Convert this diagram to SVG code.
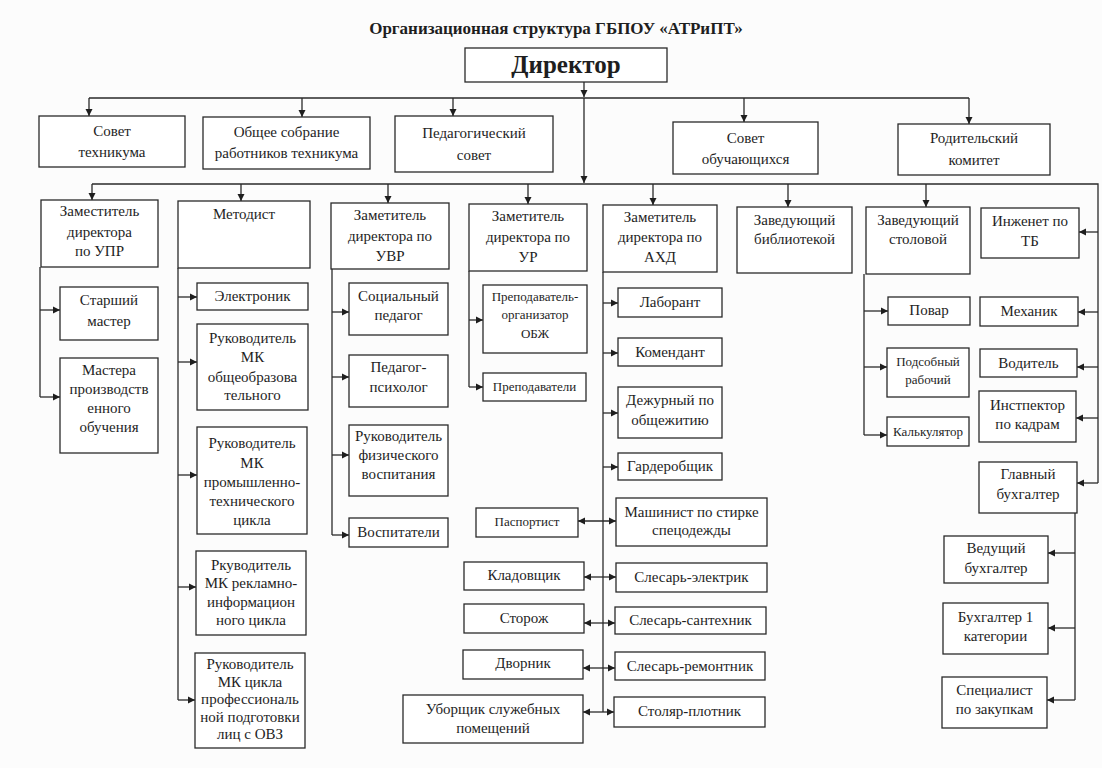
<svg xmlns="http://www.w3.org/2000/svg" width="1102" height="768" viewBox="0 0 1102 768" font-family="Liberation Serif, serif">
<defs>
<marker id="ah" markerUnits="userSpaceOnUse" markerWidth="8" markerHeight="8" refX="7" refY="4" orient="auto-start-reverse"><path d="M0,0.5 L7,4 L0,7.5 z" fill="#1e1e1e"/></marker>
<style>
rect{fill:#fff;stroke:#2a2a2a;stroke-width:1.3}
text{font-size:15px;fill:#1e1e1e;text-anchor:middle}
.s13{font-size:13px}
#conn path{fill:none;stroke:#2a2a2a;stroke-width:1.3}
.a{marker-end:url(#ah)}
.d{marker-start:url(#ah);marker-end:url(#ah)}
</style>
</defs>
<rect x="0" y="0" width="1102" height="768" style="fill:#fcfcfc;stroke:none"/>
<text x="556" y="34" style="font-weight:bold;font-size:17px">Организационная структура ГБПОУ «АТРиПТ»</text>

<g id="conn">
<path class="a" d="M584,82 V97"/>
<path class="a" d="M584,98 V183"/>
<path d="M89,98 H969"/>
<path class="a" d="M89,98 V116"/>
<path class="a" d="M302,98 V117"/>
<path class="a" d="M453,98 V116"/>
<path class="a" d="M744,98 V122"/>
<path class="a" d="M969,98 V124"/>
<path d="M92,184 H1098 V483"/>
<path class="a" d="M92,184 V200"/>
<path class="a" d="M241,184 V201"/>
<path class="a" d="M388,184 V203"/>
<path class="a" d="M528,184 V204"/>
<path class="a" d="M653,184 V205"/>
<path class="a" d="M788,184 V207"/>
<path class="a" d="M926,184 V207"/>
<path class="a" d="M1098,232 H1079"/>
<path class="a" d="M1098,312 H1078"/>
<path class="a" d="M1098,367 H1077"/>
<path class="a" d="M1098,418 H1076"/>
<path class="a" d="M1098,483 H1077"/>
<path d="M40,267 V397"/>
<path class="a" d="M40,310 H60"/>
<path class="a" d="M40,397 H60"/>
<path d="M178,268 V700"/>
<path class="a" d="M178,297 H197"/>
<path class="a" d="M178,362 H197"/>
<path class="a" d="M178,475 H197"/>
<path class="a" d="M178,587 H196"/>
<path class="a" d="M178,700 H195"/>
<path d="M332,269 V535"/>
<path class="a" d="M332,312 H349"/>
<path class="a" d="M332,377 H349"/>
<path class="a" d="M332,455 H349"/>
<path class="a" d="M332,535 H349"/>
<path d="M469,271 V387"/>
<path class="a" d="M469,320 H483"/>
<path class="a" d="M469,387 H483"/>
<path d="M603,272 V712"/>
<path class="a" d="M603,303 H618"/>
<path class="a" d="M603,353 H618"/>
<path class="a" d="M603,413 H618"/>
<path class="a" d="M603,467 H618"/>
<path class="d" d="M578,521 H616"/>
<path class="d" d="M584,577 H616"/>
<path class="d" d="M584,623 H615"/>
<path class="d" d="M583,668 H615"/>
<path class="d" d="M583,712 H614"/>
<path d="M864,274 V435"/>
<path class="a" d="M864,311 H888"/>
<path class="a" d="M864,367 H887"/>
<path class="a" d="M864,435 H887"/>
<path d="M1075,513 V700"/>
<path class="a" d="M1075,553 H1048"/>
<path class="a" d="M1075,628 H1048"/>
<path class="a" d="M1075,700 H1047"/>
</g>

<g id="director"><rect x="465" y="48" width="202" height="34"/><text x="566" y="73" style="font-weight:bold;font-size:25px">Директор</text></g>

<g id="sovet-tech"><rect x="39" y="116" width="146" height="51"/><text x="112" y="136">Совет</text><text x="112" y="157">техникума</text></g>
<g id="obshee"><rect x="203" y="117" width="167" height="52"/><text x="286.5" y="137">Общее собрание</text><text x="286.5" y="158">работников техникума</text></g>
<g id="pedsovet"><rect x="395" y="116" width="158" height="56"/><text x="474" y="138">Педагогический</text><text x="474" y="160">совет</text></g>
<g id="sovet-ob"><rect x="673" y="122" width="145" height="52"/><text x="745.5" y="143">Совет</text><text x="745.5" y="164">обучающихся</text></g>
<g id="roditel"><rect x="898" y="124" width="152" height="51"/><text x="974" y="143">Родительский</text><text x="974" y="165">комитет</text></g>

<g id="upr"><rect x="41" y="200" width="117" height="67"/><text x="99.5" y="216">Заместитель</text><text x="99.5" y="237">директора</text><text x="99.5" y="256">по УПР</text></g>
<g id="metodist"><rect x="178" y="201" width="132" height="67"/><text x="244" y="219">Методист</text></g>
<g id="uvr"><rect x="331" y="203" width="118" height="66"/><text x="390" y="220">Заметитель</text><text x="390" y="241">директора по</text><text x="390" y="261">УВР</text></g>
<g id="ur"><rect x="469" y="204" width="118" height="67"/><text x="528" y="221">Заметитель</text><text x="528" y="242">директора по</text><text x="528" y="262">УР</text></g>
<g id="ahd"><rect x="603" y="205" width="114" height="67"/><text x="660" y="222">Заметитель</text><text x="660" y="242">директора по</text><text x="660" y="262">АХД</text></g>
<g id="biblio"><rect x="737" y="207" width="115" height="66"/><text x="794.5" y="225">Заведующий</text><text x="794.5" y="244">библиотекой</text></g>
<g id="stolovaya"><rect x="866" y="207" width="104" height="67"/><text x="918" y="225">Заведующий</text><text x="918" y="244">столовой</text></g>
<g id="tb"><rect x="981" y="208" width="98" height="50"/><text x="1030" y="226">Инженет по</text><text x="1030" y="246">ТБ</text></g>

<g id="st-master"><rect x="60" y="287" width="98" height="53"/><text x="109" y="305">Старший</text><text x="109" y="326">мастер</text></g>
<g id="mastera"><rect x="60" y="358" width="98" height="95"/><text x="109" y="375">Мастера</text><text x="109" y="394">производств</text><text x="109" y="413">енного</text><text x="109" y="432">обучения</text></g>

<g id="elektronik"><rect x="197" y="283" width="111" height="27"/><text x="252.5" y="301">Электроник</text></g>
<g id="mk1"><rect x="197" y="324" width="111" height="86"/><text x="252.5" y="343">Руководитель</text><text x="252.5" y="362">МК</text><text x="252.5" y="382">общеобразова</text><text x="252.5" y="400">тельного</text></g>
<g id="mk2"><rect x="197" y="427" width="110" height="107"/><text x="252" y="448">Руководитель</text><text x="252" y="468">МК</text><text x="252" y="487">промышленно-</text><text x="252" y="506">технического</text><text x="252" y="525">цикла</text></g>
<g id="mk3"><rect x="196" y="551" width="110" height="84"/><text x="251" y="570">Ркуводитель</text><text x="251" y="588">МК рекламно-</text><text x="251" y="607">информацион</text><text x="251" y="625">ного цикла</text></g>
<g id="mk4"><rect x="195" y="653" width="110" height="95"/><text x="250" y="669">Руководитель</text><text x="250" y="687">МК цикла</text><text x="250" y="704">профессиональ</text><text x="250" y="722">ной подготовки</text><text x="250" y="739">лиц с ОВЗ</text></g>

<g id="socped"><rect x="349" y="283" width="99" height="52"/><text x="398.5" y="301">Социальный</text><text x="398.5" y="320">педагог</text></g>
<g id="psiholog"><rect x="349" y="355" width="99" height="52"/><text x="398.5" y="372">Педагог-</text><text x="398.5" y="392">психолог</text></g>
<g id="fizvos"><rect x="349" y="425" width="99" height="71"/><text x="398.5" y="441">Руководитель</text><text x="398.5" y="460">физического</text><text x="398.5" y="479">воспитания</text></g>
<g id="vospitateli"><rect x="349" y="518" width="99" height="29"/><text x="398.5" y="537">Воспитатели</text></g>

<g id="obzh"><rect x="483" y="285" width="104" height="68"/><text class="s13" x="535" y="301">Преподаватель-</text><text class="s13" x="535" y="319">организатор</text><text class="s13" x="535" y="338">ОБЖ</text></g>
<g id="prepod"><rect x="483" y="373" width="103" height="28"/><text class="s13" x="534.5" y="391">Преподаватели</text></g>

<g id="laborant"><rect x="618" y="288" width="104" height="29"/><text x="670" y="307">Лаборант</text></g>
<g id="komendant"><rect x="618" y="338" width="104" height="28"/><text x="670" y="357">Комендант</text></g>
<g id="dezhurny"><rect x="618" y="387" width="104" height="51"/><text x="670" y="405">Дежурный по</text><text x="670" y="425">общежитию</text></g>
<g id="garderob"><rect x="618" y="453" width="104" height="27"/><text x="670" y="471">Гардеробщик</text></g>
<g id="mashinist"><rect x="616" y="498" width="151" height="48"/><text x="691.5" y="517">Машинист по стирке</text><text x="691.5" y="535">спецодежды</text></g>
<g id="elektrik"><rect x="616" y="563" width="151" height="29"/><text x="691.5" y="582">Слесарь-электрик</text></g>
<g id="santehnik"><rect x="615" y="607" width="151" height="27"/><text x="690.5" y="625">Слесарь-сантехник</text></g>
<g id="remontnik"><rect x="615" y="652" width="150" height="28"/><text x="690" y="671">Слесарь-ремонтник</text></g>
<g id="stolyar"><rect x="614" y="697" width="151" height="30"/><text x="689.5" y="716">Столяр-плотник</text></g>

<g id="pasportist"><rect x="476" y="508" width="102" height="29"/><text class="s13" x="527" y="526">Паспортист</text></g>
<g id="kladovshik"><rect x="464" y="562" width="120" height="28"/><text x="524" y="580">Кладовщик</text></g>
<g id="storozh"><rect x="464" y="604" width="120" height="29"/><text x="524" y="623">Сторож</text></g>
<g id="dvornik"><rect x="463" y="650" width="120" height="29"/><text x="523" y="668">Дворник</text></g>
<g id="uborshik"><rect x="403" y="695" width="180" height="48"/><text x="493" y="714">Уборщик служебных</text><text x="493" y="733">помещений</text></g>

<g id="povar"><rect x="888" y="297" width="82" height="28"/><text x="929" y="315">Повар</text></g>
<g id="podsobny"><rect x="887" y="348" width="82" height="49"/><text class="s13" x="928" y="366">Подсобный</text><text class="s13" x="928" y="384">рабочий</text></g>
<g id="kalkulyator"><rect x="887" y="417" width="82" height="29"/><text class="s13" x="928" y="436">Калькулятор</text></g>

<g id="mehanik"><rect x="980" y="297" width="98" height="29"/><text x="1029" y="316">Механик</text></g>
<g id="voditel"><rect x="980" y="349" width="97" height="28"/><text x="1028.5" y="368">Водитель</text></g>
<g id="kadry"><rect x="979" y="391" width="97" height="51"/><text x="1027.5" y="410">Инстпектор</text><text x="1027.5" y="429">по кадрам</text></g>
<g id="glavbuh"><rect x="979" y="462" width="98" height="51"/><text x="1028" y="479">Главный</text><text x="1028" y="499">бухгалтер</text></g>
<g id="vedbuh"><rect x="944" y="536" width="104" height="47"/><text x="996" y="553">Ведущий</text><text x="996" y="573">бухгалтер</text></g>
<g id="buh1"><rect x="943" y="603" width="105" height="51"/><text x="995.5" y="622">Бухгалтер 1</text><text x="995.5" y="641">категории</text></g>
<g id="zakupki"><rect x="942" y="677" width="105" height="51"/><text x="994.5" y="695">Специалист</text><text x="994.5" y="714">по закупкам</text></g>
</svg>
